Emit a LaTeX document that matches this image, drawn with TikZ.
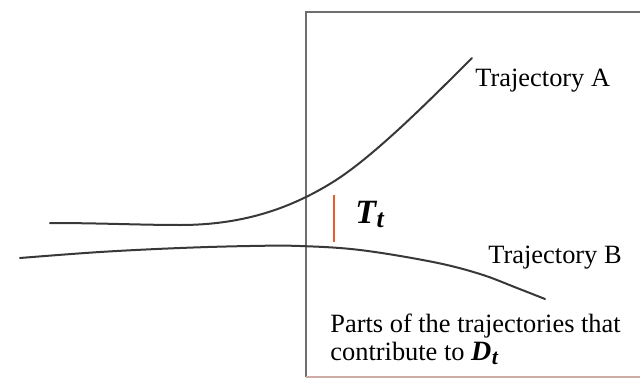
\documentclass[tikz,border=0pt]{standalone}
\usepackage{fontspec}
\setmainfont{Liberation Serif}
\definecolor{tmark}{RGB}{232,92,40}
\definecolor{frameline}{RGB}{110,110,110}
\definecolor{framebase}{RGB}{205,172,165}
\tikzset{
  traj/.style={line width=1pt,draw=black!78,line join=round,line cap=round},
  lbl/.style={anchor=base west,inner sep=0pt,font=\fontsize{13.2}{16}\selectfont},
}
\begin{document}
\begin{tikzpicture}[x=0.5pt,y=-0.5pt]
	\useasboundingbox (0,0) rectangle (640,379);
	% region of the trajectories that counts
	\path
	(640,12) coordinate (NE)
	(306,12) coordinate (NW)
	(306,377) coordinate (SW)
	(640,377) coordinate (SE);
	\draw[frameline,line width=1pt] (NE)--(NW)--(SW);
	\draw[framebase,line width=1pt] (SW)--(SE);
	% the two trajectories
	\path
	(50,223) coordinate (A0)
	(180,225) coordinate (A1)
	(333,182) coordinate (A2)
	(472,58) coordinate (A3);
	\draw[traj] (A0) .. controls (100,223) and (140,225) .. (A1)
	.. controls (240,225) and (288,210) .. (A2)
	.. controls (373,157) and (427,103) .. (A3);
	\draw[traj] plot[smooth,tension=0.6] coordinates{(20,258) (100,252) (180,248) (250,246) (300,246) (360,250) (433,262) (480,274) (517,288) (545,299)};
	% T_t mark
	\path
	(334,195) coordinate (Ttop)
	(334,242) coordinate (Tbot);
	\draw[tmark,line width=1.2pt] (Ttop)--(Tbot);
	\node[lbl,font=\fontsize{17}{20}\selectfont] (Tt) at (355,223) {\bfseries\itshape T\kern0.2pt\raisebox{-0.3ex}{\fontsize{13}{15}\selectfont t}};
	\node[lbl] (trajA) at (475,87) {Trajectory A};
	\node[lbl] (trajB) at (488,263) {Trajectory B};
	\node[lbl] (parts) at (330,332) {Parts of the trajectories that};
	\node[lbl] (contrib) at (330,360) {contribute to {\fontsize{14}{16}\selectfont\bfseries\itshape D\kern0.2pt\raisebox{-0.35ex}{\fontsize{11}{13}\selectfont t}}};
\end{tikzpicture}
\end{document}
